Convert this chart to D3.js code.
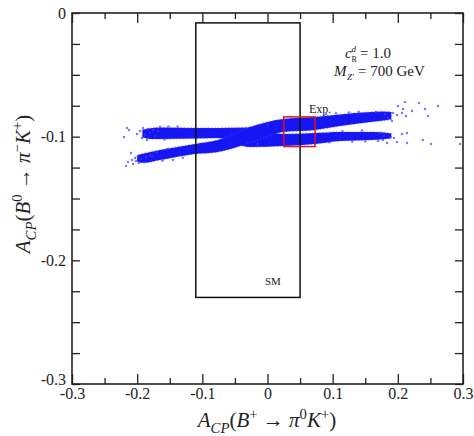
<!DOCTYPE html>
<html><head><meta charset="utf-8">
<script src="https://cdn.jsdelivr.net/npm/d3@7"></script>
<style>
body{margin:0;background:#fff}
svg{display:block}
text{font-family:"Liberation Serif","Times New Roman",serif;fill:#222}
</style>
</head><body>
<svg id="c" width="474" height="436"></svg>
<script>
// ---- data ----
const xTicks = [-0.3, -0.2, -0.1, 0, 0.1, 0.2, 0.3];
const xMinorTicks = [-0.25, -0.15, -0.05, 0.05, 0.15, 0.25];
const yTicks = [0, -0.1, -0.2, -0.3];
const yMinorTicks = [-0.025, -0.05, -0.075, -0.125, -0.15, -0.175, -0.225, -0.25, -0.275];

// dense scatter bands: [x, yUpperEdge, yLowerEdge]
const bandA = [
  [-0.192, -0.0945, -0.1005],
  [-0.180, -0.0932, -0.1018],
  [-0.165, -0.0926, -0.1019],
  [-0.111, -0.0930, -0.1015],
  [-0.076, -0.0930, -0.1011],
  [-0.027, -0.0925, -0.1084],
  [0.024, -0.0978, -0.1075],
  [0.073, -0.0970, -0.1059],
  [0.111, -0.0962, -0.1035],
  [0.158, -0.0962, -0.1027],
  [0.178, -0.0966, -0.1020],
  [0.190, -0.0975, -0.1010]
];
const bandB = [
  [-0.200, -0.1150, -0.1200],
  [-0.190, -0.1136, -0.1212],
  [-0.165, -0.1108, -0.1189],
  [-0.111, -0.1059, -0.1140],
  [-0.076, -0.1027, -0.1124],
  [-0.027, -0.0922, -0.1051],
  [0.024, -0.0857, -0.0962],
  [0.073, -0.0841, -0.0946],
  [0.111, -0.0821, -0.0914],
  [0.158, -0.0801, -0.0881],
  [0.178, -0.0796, -0.0870],
  [0.190, -0.0800, -0.0860]
];
// sparse scatter points around the bands: [x, y]
const sparsePoints = [
  [-0.2202,-0.1003],[-0.2156,-0.0930],[-0.2125,-0.0946],[-0.2095,-0.1132],[-0.2171,-0.1237],
  [-0.2141,-0.1205],[-0.2079,-0.1189],[-0.2033,-0.1172],[-0.1987,-0.1156],[-0.1957,-0.0954],
  [-0.1911,-0.0930],[-0.1880,-0.0986],[-0.2003,-0.0978],[-0.1926,-0.1011],[-0.1834,-0.0938],
  [-0.1803,-0.0970],[-0.2064,-0.1221],[-0.2018,-0.1197],[-0.1941,-0.1181],[-0.1864,-0.1164],
  [-0.1803,-0.1148],[-0.1757,-0.0946],[-0.1726,-0.0995],[-0.1772,-0.1156],[-0.1972,-0.1213],
  [-0.1696,-0.1124],[-0.1680,-0.0954],[-0.1849,-0.1027],[-0.1895,-0.1205],
  [-0.1650,-0.0920],[-0.1580,-0.1023],[-0.1520,-0.0918],[-0.1610,-0.1195],[-0.1540,-0.1100],
  [-0.1450,-0.1188],[-0.1380,-0.0917],[-0.1300,-0.1170],[-0.0150,-0.1060],[0.0000,-0.0905],
  [0.0900,-0.0818],[0.1050,-0.0810],[0.1250,-0.0805],[0.1400,-0.0798],[0.1300,-0.1040],
  [0.1500,-0.1038],[0.1150,-0.0955],[0.1450,-0.0950],[0.0950,-0.1045],
  [0.2002,-0.0752],[0.2110,-0.0720],[0.2079,-0.0776],[0.2325,-0.0728],[0.2417,-0.0776],
  [0.2616,-0.0752],[0.2463,-0.0833],[0.2217,-0.0792],[0.2125,-0.0833],[0.1926,-0.0809],
  [0.1987,-0.0825],[0.2064,-0.0809],[0.2141,-0.0970],[0.2064,-0.0978],[0.2386,-0.1027],
  [0.2509,-0.1059],[0.2141,-0.1051],[0.1987,-0.1043],[0.1880,-0.1011],[0.1772,-0.1027],
  [0.1834,-0.1051],[0.1726,-0.0970],[0.2954,-0.1059],[0.1803,-0.0817],[0.1849,-0.0849],
  [0.1665,-0.0801],[0.1910,-0.0873],[0.1941,-0.1011],[0.1696,-0.1035],[0.1788,-0.0995]
];
const smBox = [-0.11, 0.05, -0.23, -0.008];     // x0, x1, y0, y1
const expBox = [0.025, 0.073, -0.108, -0.084];  // x0, x1, y0, y1

// ---- drawing ----
const svg = d3.select("#c");
svg.append("rect").attr("width", 474).attr("height", 436).attr("fill", "#fff");
const defs = svg.append("defs");
defs.append("filter").attr("id", "soft").attr("x", "-5%").attr("y", "-20%").attr("width", "110%").attr("height", "140%")
  .append("feGaussianBlur").attr("stdDeviation", 0.6);
const L = 72, R = 463, T = 13, B = 384;
const x = d3.scaleLinear().domain([-0.3, 0.3]).range([L, R]);
const y = d3.scaleLinear().domain([-0.3, 0]).range([B, T]);
const fmt = d => d === 0 ? "0" : String(d);

// bands
const area = d3.area().x(d => x(d[0])).y0(d => y(d[1])).y1(d => y(d[2])).curve(d3.curveMonotoneX);
const bandG = svg.append("g").attr("filter", "url(#soft)");
[bandA, bandB].forEach(b => {
  bandG.append("path").attr("d", area(b)).attr("fill", "#1414f4");
  bandG.append("path").attr("d", area(b)).attr("fill", "none")
    .attr("stroke", "#5050ff").attr("stroke-width", 1.4)
    .attr("stroke-dasharray", "1.2,2.2").attr("opacity", 0.6);
});
svg.append("g").attr("filter", "url(#soft)").selectAll("circle").data(sparsePoints).join("circle")
  .attr("cx", d => x(d[0])).attr("cy", d => y(d[1])).attr("r", 1.2)
  .attr("fill", "#3c3cff").attr("opacity", 0.7);

// boxes
svg.append("rect")
  .attr("x", x(smBox[0])).attr("y", y(smBox[3]))
  .attr("width", x(smBox[1]) - x(smBox[0])).attr("height", y(smBox[2]) - y(smBox[3]))
  .attr("fill", "none").attr("stroke", "#111").attr("stroke-width", 1.5);
svg.append("rect")
  .attr("x", x(expBox[0])).attr("y", y(expBox[3]))
  .attr("width", x(expBox[1]) - x(expBox[0])).attr("height", y(expBox[2]) - y(expBox[3]))
  .attr("fill", "none").attr("stroke", "#e81010").attr("stroke-width", 1.5);

// axes
function styleAxis(g) {
  g.select(".domain").remove();
  g.selectAll(".tick line").attr("stroke", "#222").attr("stroke-width", 1.3);
  g.selectAll(".tick text").style("font-family", '"Liberation Serif","Times New Roman",serif')
    .style("font-size", "16px").attr("fill", "#222");
}
svg.append("g").attr("transform", `translate(0,${B})`)
  .call(d3.axisBottom(x).tickValues(xTicks).tickSizeInner(-10).tickSizeOuter(0).tickPadding(4).tickFormat(fmt)).call(styleAxis);
svg.append("g").attr("transform", `translate(0,${B})`)
  .call(d3.axisBottom(x).tickValues(xMinorTicks).tickSizeInner(-6).tickSizeOuter(0).tickFormat("")).call(styleAxis);
svg.append("g").attr("transform", `translate(0,${T})`)
  .call(d3.axisTop(x).tickValues(xTicks).tickSizeInner(-10).tickSizeOuter(0).tickFormat("")).call(styleAxis);
svg.append("g").attr("transform", `translate(0,${T})`)
  .call(d3.axisTop(x).tickValues(xMinorTicks).tickSizeInner(-6).tickSizeOuter(0).tickFormat("")).call(styleAxis);
svg.append("g").attr("transform", `translate(${L},0)`)
  .call(d3.axisLeft(y).tickValues(yTicks).tickSizeInner(-8).tickSizeOuter(0).tickPadding(6).tickFormat(fmt))
  .call(styleAxis)
  .call(g => g.selectAll(".tick text").filter(d => d === -0.3).attr("dy", "0.05em"));
svg.append("g").attr("transform", `translate(${L},0)`)
  .call(d3.axisLeft(y).tickValues(yMinorTicks).tickSizeInner(-8).tickSizeOuter(0).tickFormat("")).call(styleAxis);
svg.append("g").attr("transform", `translate(${R},0)`)
  .call(d3.axisRight(y).tickValues(yTicks).tickSizeInner(-8).tickSizeOuter(0).tickFormat("")).call(styleAxis);
svg.append("g").attr("transform", `translate(${R},0)`)
  .call(d3.axisRight(y).tickValues(yMinorTicks).tickSizeInner(-8).tickSizeOuter(0).tickFormat("")).call(styleAxis);

// frame
svg.append("rect").attr("x", L).attr("y", T).attr("width", R - L).attr("height", B - T)
  .attr("fill", "none").attr("stroke", "#222").attr("stroke-width", 1.6);

// rich text helper: parts = [text, style] where style: i italic, sub, sup
function rich(t, parts, size) {
  t.style("font-size", size + "px");
  let shift = 0;
  parts.forEach(([s, st]) => {
    const sp = t.append("tspan").text(s);
    let target = 0;
    if (st.includes("sub")) { target = size * 0.28; sp.style("font-size", (size * 0.7) + "px"); }
    if (st.includes("sup")) { target = -size * 0.4; sp.style("font-size", (size * 0.7) + "px"); }
    if (st.includes("i")) sp.style("font-style", "italic");
    sp.attr("dy", target - shift);
    shift = target;
  });
}
const axisLabelParts = (b, p, k) => [
  ["A", "i"], ["CP", "i sub"], ["(", ""], ["B", "i"], [b, "sup"], [" \u2192 ", ""],
  ["\u03c0", "i"], [p, "sup"], ["K", "i"], [k, "sup"], [")", ""]
];
rich(svg.append("text").attr("x", 267).attr("y", 427).attr("text-anchor", "middle"),
  axisLabelParts("+", "0", "+"), 21);
rich(svg.append("text").attr("transform", "translate(30,184) rotate(-90)").attr("text-anchor", "middle"),
  axisLabelParts("0", "\u2212", "+"), 21);

// annotations
const ann = svg.append("g");
ann.append("text").attr("x", 345).attr("y", 58).style("font-size", "15px").style("font-style", "italic").text("c");
ann.append("text").attr("x", 351.5).attr("y", 52).style("font-size", "9px").style("font-style", "italic").text("d");
ann.append("text").attr("x", 351.5).attr("y", 62).style("font-size", "8px").text("R");
ann.append("text").attr("x", 360).attr("y", 58).style("font-size", "15px").text("= 1.0");
ann.append("text").attr("x", 334).attr("y", 76).style("font-size", "15px").style("font-style", "italic").text("M");
ann.append("text").attr("x", 347).attr("y", 80).style("font-size", "9px").style("font-style", "italic").text("Z\u2032");
ann.append("text").attr("x", 358).attr("y", 76).style("font-size", "15px").text("= 700 GeV");
ann.append("text").attr("x", 265).attr("y", 285).style("font-size", "11px").text("SM");
ann.append("text").attr("x", 309).attr("y", 113).style("font-size", "12px").text("Exp.");
</script>
</body></html>
